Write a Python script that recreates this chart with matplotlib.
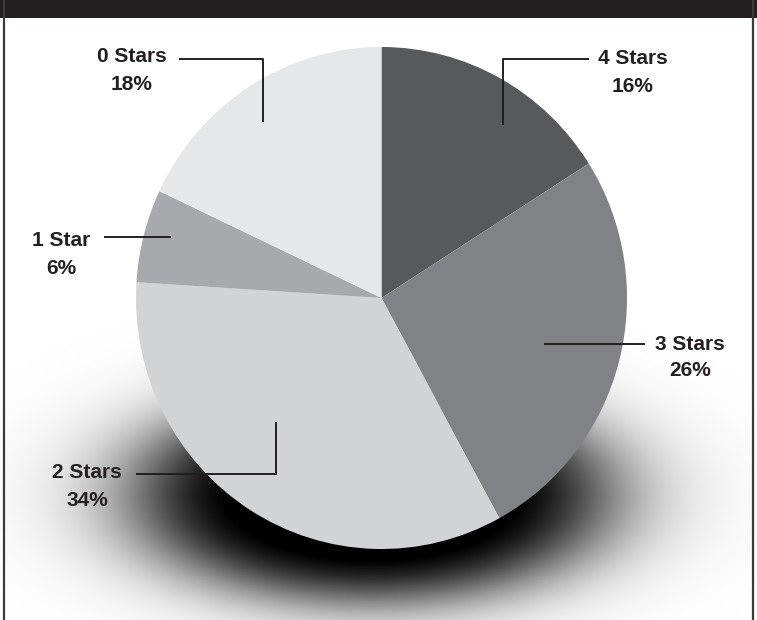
import numpy as np
import matplotlib
matplotlib.use('Agg')
from matplotlib import pyplot as plt

# Star-rating shares, clockwise from 12 o'clock
labels = ['4 Stars', '3 Stars', '2 Stars', '1 Star', '0 Stars']
shares = [16, 26, 34, 6, 18]
colors = ['#58595b', '#808285', '#d1d3d4', '#a7a9ac', '#e6e7e8']

W, H = 757, 620
fig = plt.figure(figsize=(W / 100, H / 100), dpi=100)
fig.patch.set_facecolor('white')

# background axes in pixel coordinates (y down) for the soft shadow
bg = fig.add_axes([0, 0, 1, 1], zorder=0)
bg.set_xlim(0, W)
bg.set_ylim(H, 0)
bg.axis('off')

xx, yy = np.meshgrid(np.arange(W) + 0.5, np.arange(H) + 0.5)
cx, cy, rx, ry = 372, 495, 225, 100
r = np.sqrt(((xx - cx) / rx) ** 2 + ((yy - cy) / ry) ** 2)
alpha = np.clip(1.15 / (1 + np.exp((r - 1) / 0.18)), 0, 1)
shadow = np.zeros((H, W, 4))
shadow[..., 3] = alpha
bg.imshow(shadow, extent=(0, W, H, 0), interpolation='bilinear', aspect='auto')

# the pie itself, in an axes fitted to its bounding box
left, top, right, bottom = 136, 47, 627, 549
pax = fig.add_axes([left / W, 1 - bottom / H, (right - left) / W, (bottom - top) / H], zorder=1)
pax.pie(shares, colors=colors, startangle=90, counterclock=False,
        wedgeprops=dict(linewidth=0))
pax.set_aspect('auto')
pax.set_xlim(-1, 1)
pax.set_ylim(-1, 1)
pax.axis('off')

# overlay axes for frame, leader lines and labels
ov = fig.add_axes([0, 0, 1, 1], zorder=2)
ov.set_xlim(0, W)
ov.set_ylim(H, 0)
ov.axis('off')
ov.patch.set_alpha(0)

ov.add_patch(plt.Rectangle((0, 0), W, 18, color='#231f20', lw=0))
ov.plot([3.5, 3.5], [0, H], color='#3a3a3a', lw=1.6)
ov.plot([753, 753], [0, H], color='#3a3a3a', lw=1.6)

leaders = {
    '0 Stars': [(179, 59), (263, 59), (263, 122)],
    '4 Stars': [(589, 59), (503, 59), (503, 125)],
    '1 Star': [(104, 237), (171, 237)],
    '2 Stars': [(136, 474), (276, 474), (276, 422)],
    '3 Stars': [(544, 344), (645, 344)],
}
label_pos = {
    '0 Stars': (132, 57, 84),
    '4 Stars': (633, 59, 86),
    '1 Star': (61, 241, 268),
    '2 Stars': (87, 473, 501),
    '3 Stars': (690, 345, 371),
}

for lab, val in zip(labels, shares):
    pts = np.array(leaders[lab])
    ov.plot(pts[:, 0], pts[:, 1], color='#231f20', lw=1.4, solid_capstyle='butt')
    x, y1, y2 = label_pos[lab]
    ov.text(x, y1, lab, ha='center', va='center', fontsize=15, fontweight='bold',
            color='#231f20', family='Liberation Sans')
    ov.text(x, y2, f'{val}%', ha='center', va='center', fontsize=15, fontweight='bold',
            color='#231f20', family='Liberation Sans')

plt.savefig('out.png', dpi=100)
